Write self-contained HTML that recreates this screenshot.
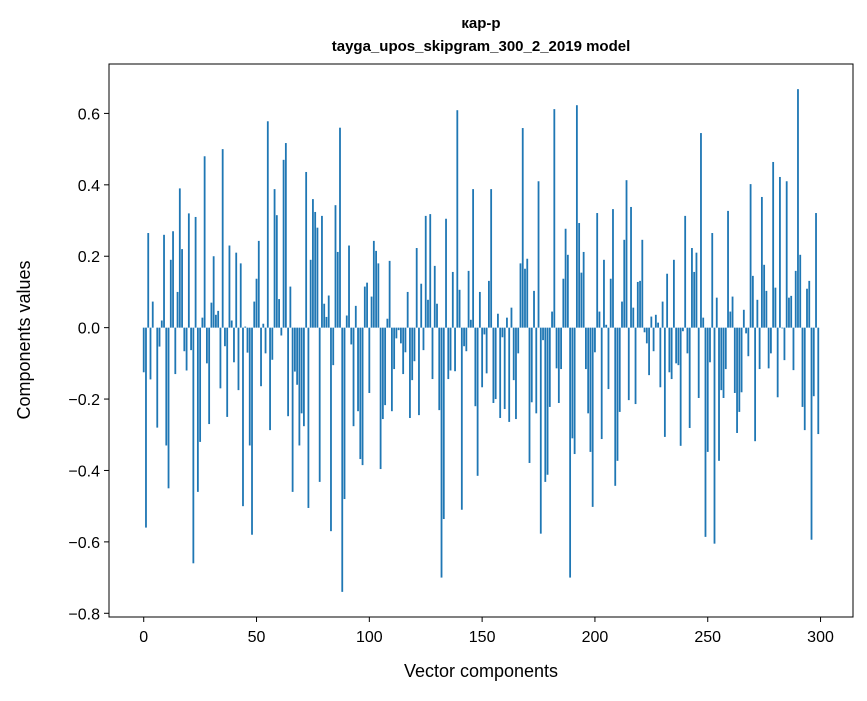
<!DOCTYPE html>
<html><head><meta charset="utf-8"><style>
body{margin:0;background:#fff;}
svg text{font-family:"Liberation Sans","DejaVu Sans",sans-serif;fill:#000;}
</style></head><body>
<svg id="chart" width="867" height="696" viewBox="0 0 867 696" xmlns="http://www.w3.org/2000/svg">
<rect width="867" height="696" fill="#fff"/>
<text x="481" y="28" text-anchor="middle" font-size="15" font-weight="bold">кар-р</text>
<text x="481" y="51" text-anchor="middle" font-size="15" font-weight="bold">tayga_upos_skipgram_300_2_2019 model</text>
<g id="bars"></g>
<g id="axes"></g>
<text x="481" y="677" text-anchor="middle" font-size="18">Vector components</text>
<text transform="translate(30,340) rotate(-90)" text-anchor="middle" font-size="18">Components values</text>
</svg>
<script>
const values = [-0.125,-0.56,0.265,-0.145,0.073,0,-0.28,-0.053,0.02,0.26,-0.33,-0.45,0.19,0.27,-0.13,0.10,0.39,0.22,-0.066,-0.12,
0.32,-0.063,-0.66,0.31,-0.46,-0.32,0.028,0.48,-0.10,-0.27,0.07,0.20,0.036,0.047,-0.17,0.50,-0.052,-0.25,0.23,0.02,
-0.097,0.21,-0.175,0.18,-0.50,0.003,-0.07,-0.33,-0.58,0.073,0.137,0.243,-0.164,0.011,-0.072,0.578,-0.287,-0.09,0.388,0.315,
0.08,-0.022,0.47,0.517,-0.248,0.115,-0.46,-0.123,-0.16,-0.33,-0.24,-0.276,0.436,-0.505,0.19,0.36,0.324,0.28,-0.432,0.313,
0.067,0.03,0.09,-0.57,-0.105,0.343,0.212,0.56,-0.74,-0.48,0.034,0.23,-0.047,-0.276,0.061,-0.234,-0.368,-0.385,0.115,0.126,
-0.183,0.087,0.243,0.215,0.18,-0.396,-0.256,-0.217,0.025,0.187,-0.234,-0.116,-0.03,-0.007,-0.044,-0.13,-0.069,0.10,-0.253,-0.147,
-0.094,0.223,-0.245,0.123,-0.063,0.313,0.078,0.318,-0.144,0.173,0.067,-0.231,-0.70,-0.536,0.305,-0.144,-0.12,0.156,-0.122,0.609,
0.106,-0.51,-0.052,-0.066,0.159,0.022,0.388,-0.22,-0.415,0.10,-0.167,-0.019,-0.128,0.131,0.388,-0.211,-0.2,0.039,-0.253,-0.027,
-0.228,0.028,-0.264,0.056,-0.147,-0.256,-0.072,0.18,0.559,0.165,0.193,-0.379,-0.209,0.103,-0.24,0.41,-0.577,-0.035,-0.432,-0.412,
-0.222,0.045,0.612,-0.114,-0.211,-0.116,0.137,0.277,0.204,-0.70,-0.31,-0.354,0.623,0.293,0.154,0.212,-0.116,-0.24,-0.348,-0.502,
-0.069,0.321,0.045,-0.312,0.19,0.008,-0.172,0.137,0.332,-0.443,-0.373,-0.236,0.073,0.246,0.413,-0.203,0.338,0.056,-0.214,0.128,
0.131,0.246,-0.013,-0.044,-0.133,0.031,-0.066,0.036,0.014,-0.167,0.073,-0.306,0.151,-0.125,-0.144,0.19,-0.1,-0.105,-0.331,-0.01,
0.313,-0.072,-0.281,0.223,0.156,0.21,-0.197,0.545,0.028,-0.586,-0.348,-0.097,0.265,-0.605,0.084,-0.373,-0.175,-0.197,-0.116,0.327,
0.045,0.087,-0.183,-0.295,-0.236,-0.181,0.05,-0.016,-0.08,0.402,0.145,-0.318,0.078,-0.116,0.366,0.176,0.103,-0.114,-0.072,0.464,
0.112,-0.195,0.422,-0.002,-0.091,0.41,0.084,0.089,-0.119,0.159,0.668,0.204,-0.222,-0.287,0.109,0.131,-0.594,-0.192,0.321,-0.298];
const yTicks = [0.6,0.4,0.2,0.0,-0.2,-0.4,-0.6,-0.8];
const yTickLabels = ["0.6","0.4","0.2","0.0","\u22120.2","\u22120.4","\u22120.6","\u22120.8"];
const xTicks = [0,50,100,150,200,250,300];
const xTickLabels = ["0","50","100","150","200","250","300"];

const L=109,R=853,T=64,B=617;
const n=values.length;
const x0=-0.4-0.05*(n-1+0.8), x1=(n-1)+0.4+0.05*(n-1+0.8);
const vmin=Math.min(...values,0), vmax=Math.max(...values,0);
const pad=(vmax-vmin)*0.05;
const y0=vmin-pad, y1=vmax+pad;
const xs=v=>L+(v-x0)/(x1-x0)*(R-L);
const ys=v=>B-(v-y0)/(y1-y0)*(B-T);
const NS="http://www.w3.org/2000/svg";
const bars=document.getElementById('bars');
values.forEach((v,i)=>{
  const r=document.createElementNS(NS,'rect');
  
  
  const xa=xs(i-0.4), xb=xs(i+0.4);
  const ya=ys(Math.max(v,0)), yb=ys(Math.min(v,0));
  r.setAttribute('x',xa);r.setAttribute('width',xb-xa);
  r.setAttribute('y',ya);r.setAttribute('height',Math.max(yb-ya,0));
  r.setAttribute('fill','#1f77b4');
  bars.appendChild(r);
});
const axes=document.getElementById('axes');
function add(tag,attrs,text){const e=document.createElementNS(NS,tag);for(const k in attrs)e.setAttribute(k,attrs[k]);if(text!==undefined)e.textContent=text;axes.appendChild(e);return e;}
const frame=add('rect',{x:L,y:T,width:R-L,height:B-T,fill:'none',stroke:'#000','stroke-width':1});


yTicks.forEach((t,i)=>{
  const y=ys(t);
  const ln=add('line',{x1:L-5,x2:L,y1:y,y2:y,stroke:'#000','stroke-width':1});
  
  
  const tx=add('text',{x:L-9,y:y+6,'text-anchor':'end','font-size':16},yTickLabels[i]);
  
  
});
xTicks.forEach((t,i)=>{
  const x=xs(t);
  const ln=add('line',{x1:x,x2:x,y1:B,y2:B+5,stroke:'#000','stroke-width':1});
  
  
  const tx=add('text',{x:x,y:B+25,'text-anchor':'middle','font-size':16},xTickLabels[i]);
  
  
});
</script>
</body></html>
